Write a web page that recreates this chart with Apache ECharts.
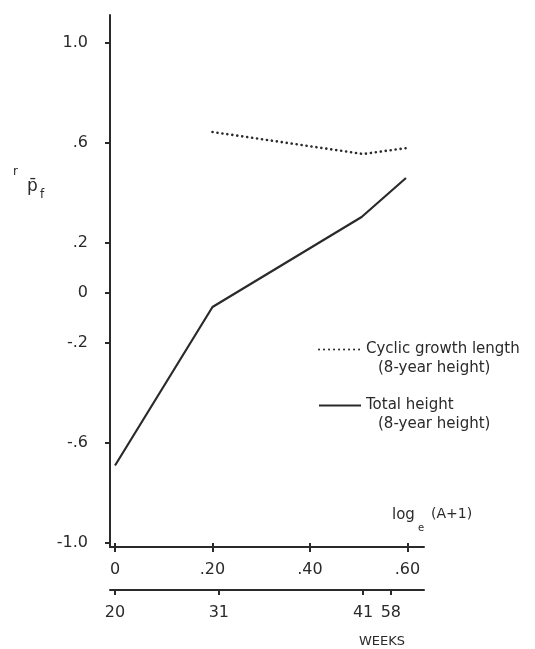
<!DOCTYPE html>
<html>
<head>
<meta charset="utf-8">
<script src="https://cdn.jsdelivr.net/npm/echarts@6/dist/echarts.min.js"></script>
<style>
html,body{margin:0;padding:0;background:#ffffff;}
#c{width:535px;height:649px;}
</style>
</head>
<body>
<div id="c"></div>
<script>
// ---- data ----
const yTicks = [1.0, 0.6, 0.2, 0, -0.2, -0.6, -1.0];
const yLabels = ['1.0', '.6', '.2', '0', '-.2', '-.6', '-1.0'];
const xLogTicks = [0, 0.2, 0.4, 0.6];
const xLogLabels = ['0', '.20', '.40', '.60'];
const weekTickPos = [0, 0.213, 0.509, 0.566];
const weekLabels = ['20', '31', '41', '58'];
const totalX = [0, 0.2, 0.506, 0.597];
const totalHeight = [-0.69, -0.056, 0.304, 0.46];
const cyclicX = [0.2, 0.509, 0.599];
const cyclicLength = [0.644, 0.556, 0.58];
const seriesNames = ['Cyclic growth length', 'Total height'];
const legendSub = '(8-year height)';

const ink = '#2a2a2a';
const font = 'DejaVu Sans';

function lookup(ticks, labels) {
  return function (v) {
    for (let i = 0; i < ticks.length; i++) {
      if (Math.abs(ticks[i] - v) < 1e-6) return labels[i];
    }
    return '';
  };
}

const xMin = -0.0103, xMax = 0.634;

const chart = echarts.init(document.getElementById('c'), null, {renderer: 'canvas'});
chart.setOption({
  backgroundColor: '#ffffff',
  animation: false,
  textStyle: {fontFamily: font, color: ink},
  grid: {left: 110, top: 15, width: 314, height: 532},
  legend: [
    {
      data: [seriesNames[0]], left: 313, top: 337, itemWidth: 42, itemHeight: 14,
      itemStyle: {opacity: 0},
      textStyle: {fontFamily: font, fontSize: 15, color: ink}
    },
    {
      data: [seriesNames[1]], left: 313, top: 393, itemWidth: 42, itemHeight: 14,
      itemStyle: {opacity: 0},
      textStyle: {fontFamily: font, fontSize: 15, color: ink}
    }
  ],
  xAxis: [
    {
      type: 'value', min: xMin, max: xMax, position: 'bottom',
      axisLine: {show: true, onZero: false, lineStyle: {color: ink, width: 2}},
      axisTick: {show: true, length: 5, customValues: xLogTicks, lineStyle: {color: ink, width: 2}},
      axisLabel: {show: true, customValues: xLogTicks, formatter: lookup(xLogTicks, xLogLabels),
        margin: 15, fontSize: 16, color: ink, fontFamily: font},
      splitLine: {show: false}
    },
    {
      type: 'value', min: xMin, max: xMax, position: 'bottom', offset: 43,
      axisLine: {show: true, onZero: false, lineStyle: {color: ink, width: 2}},
      axisTick: {show: true, length: 5, customValues: weekTickPos, lineStyle: {color: ink, width: 2}},
      axisLabel: {show: true, customValues: weekTickPos, formatter: lookup(weekTickPos, weekLabels),
        margin: 15, fontSize: 16, color: ink, fontFamily: font},
      splitLine: {show: false}
    },
    {
      type: 'value', min: xMin, max: xMax, position: 'bottom',
      axisLine: {show: false, onZero: false},
      axisTick: {show: true, inside: true, length: 4, customValues: xLogTicks, lineStyle: {color: ink, width: 2}},
      axisLabel: {show: false},
      splitLine: {show: false}
    }
  ],
  yAxis: {
    type: 'value', min: -1.016, max: 1.112,
    axisLine: {show: true, onZero: false, lineStyle: {color: ink, width: 2}},
    axisTick: {show: true, length: 5, customValues: yTicks, lineStyle: {color: ink, width: 2}},
    axisLabel: {show: true, customValues: yTicks, formatter: lookup(yTicks, yLabels),
      margin: 22, fontSize: 16, color: ink, fontFamily: font},
    splitLine: {show: false}
  },
  graphic: [
    {type: 'text', left: 13, top: 166, style: {text: 'r', fontSize: 12, fontFamily: font, fill: ink}},
    {type: 'text', left: 27, top: 178, style: {text: 'p\u0304', fontSize: 17, fontFamily: font, fill: ink}},
    {type: 'text', left: 40, top: 189, style: {text: 'f', fontSize: 12, fontFamily: font, fill: ink}},
    {type: 'text', left: 378, top: 361, style: {text: legendSub, fontSize: 15, fontFamily: font, fill: ink}},
    {type: 'text', left: 378, top: 417, style: {text: legendSub, fontSize: 15, fontFamily: font, fill: ink}},
    {type: 'text', left: 392, top: 508, style: {text: 'log', fontSize: 15, fontFamily: font, fill: ink}},
    {type: 'text', left: 418, top: 523, style: {text: 'e', fontSize: 10, fontFamily: font, fill: ink}},
    {type: 'text', left: 431, top: 507, style: {text: '(A+1)', fontSize: 14, fontFamily: font, fill: ink}},
    {type: 'text', left: 359, top: 635, style: {text: 'WEEKS', fontSize: 13, fontFamily: font, fill: ink}}
  ],
  series: [
    {
      name: seriesNames[0], type: 'line', xAxisIndex: 0, symbol: 'none',
      data: cyclicX.map((x, i) => [x, cyclicLength[i]]),
      lineStyle: {color: ink, width: 2.6, type: [0.1, 4.9], cap: 'round'},
      itemStyle: {color: ink}
    },
    {
      name: seriesNames[1], type: 'line', xAxisIndex: 0, symbol: 'none',
      data: totalX.map((x, i) => [x, totalHeight[i]]),
      lineStyle: {color: ink, width: 2.2, type: 'solid'},
      itemStyle: {color: ink}
    }
  ]
});
</script>
</body>
</html>
